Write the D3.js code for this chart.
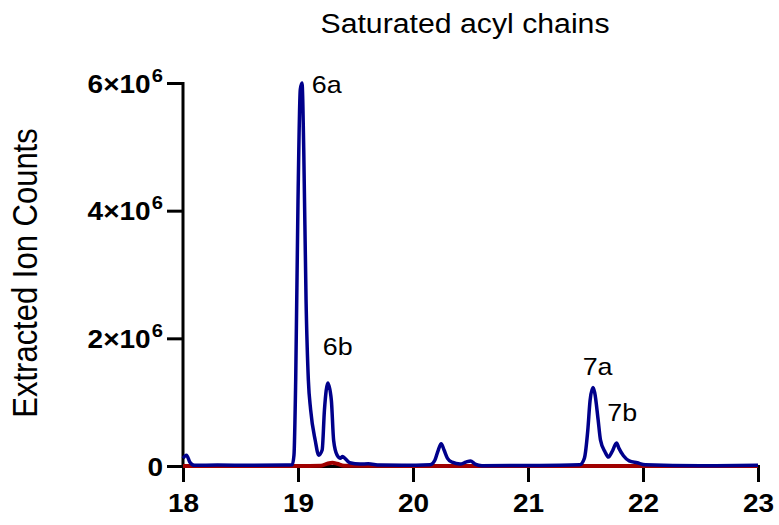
<!DOCTYPE html>
<html>
<head>
<meta charset="utf-8">
<script src="https://cdn.jsdelivr.net/npm/d3@7"></script>
<style>
  body { margin: 0; background: #fff; }
  text { font-family: "Liberation Sans", Arial, sans-serif; }
</style>
</head>
<body>
<svg id="chart" width="779" height="525"></svg>
<script>
const svg = d3.select("#chart");

// retention time (min) and extracted ion counts
const blueTime = [18.0, 18.03, 18.06, 18.1, 18.3, 18.6, 18.9, 18.95, 18.965, 18.98, 19.0, 19.02, 19.035, 19.05, 19.07, 19.09, 19.11, 19.15, 19.18, 19.21, 19.23, 19.26, 19.29, 19.31, 19.34, 19.37, 19.385, 19.45, 19.54, 19.61, 19.71, 19.9, 20.15, 20.19, 20.22, 20.245, 20.27, 20.3, 20.34, 20.41, 20.46, 20.5, 20.54, 20.6, 21.0, 21.45, 21.49, 21.52, 21.54, 21.565, 21.58, 21.61, 21.63, 21.67, 21.7, 21.73, 21.77, 21.79, 21.83, 21.88, 21.95, 22.02, 22.5, 23.0];
const blueCounts = [120000, 170000, 60000, 10000, 15000, 12000, 15000, 20000, 170000, 1350000, 4150000, 5900000, 6000000, 4950000, 2600000, 1350000, 880000, 400000, 170000, 250000, 880000, 1300000, 1030000, 400000, 170000, 120000, 150000, 50000, 30000, 35000, 15000, 12000, 20000, 90000, 250000, 350000, 250000, 120000, 60000, 30000, 60000, 80000, 30000, 5000, 8000, 20000, 120000, 560000, 1030000, 1230000, 1150000, 720000, 410000, 220000, 140000, 220000, 360000, 280000, 160000, 80000, 50000, 20000, 5000, 10000];

const redTime = [18.0, 19.0, 19.2, 19.26, 19.3, 19.34, 19.4, 20.0, 21.0, 22.0, 23.0];
const redCounts = [0, 0, 5000, 40000, 50000, 35000, 5000, 0, 0, 0, 0];

const peakLabels = ["6a", "6b", "7a", "7b"];
const peakTime = [19.12, 19.215, 21.475, 21.69];
const peakCount = [5840000, 1740000, 1420000, 700000];

const xTicks = [18, 19, 20, 21, 22, 23];
const yTicks = [0, 2000000, 4000000, 6000000];

const stretch = 1.12; // the original is a little wider than tall

const x = d3.scaleLinear().domain([18, 23]).range([183, 758]);
const y = d3.scaleLinear().domain([0, 6000000]).range([466, 83]);

const line = d3.line()
  .x(d => x(d[0]))
  .y(d => y(d[1]))
  .curve(d3.curveMonotoneX);

// x axis
const xAxis = svg.append("g")
  .attr("transform", "translate(0,466)")
  .call(d3.axisBottom(x).tickValues(xTicks).tickSize(16).tickPadding(12).tickFormat(d3.format("d")));
xAxis.select(".domain").attr("stroke-width", 3);
xAxis.selectAll(".tick line").attr("stroke-width", 3);
xAxis.selectAll(".tick text")
  .attr("font-size", 25).attr("font-weight", "bold")
  .attr("transform", `scale(${stretch},1)`)
  .style("font-family", "Liberation Sans, Arial, sans-serif");

// y axis
const yAxis = svg.append("g")
  .attr("transform", "translate(183,0)")
  .call(d3.axisLeft(y).tickValues(yTicks).tickSize(16).tickFormat(""));
yAxis.select(".domain").attr("stroke-width", 3).attr("d", "M0,82V466");
yAxis.selectAll(".tick line").attr("stroke-width", 3);

yAxis.selectAll(".tick").each(function(d) {
  const t = d3.select(this).append("text")
    .attr("x", -20 / stretch).attr("dy", "0.36em")
    .attr("transform", `scale(${stretch},1)`)
    .attr("text-anchor", "end")
    .attr("fill", "#000")
    .attr("font-size", 25).attr("font-weight", "bold");
  if (d === 0) {
    t.text("0");
  } else {
    t.append("tspan").text((d / 1e6) + "×10");
    t.append("tspan").attr("font-size", 18).attr("dx", 1).attr("dy", "-0.6em").text("6");
  }
});

// series
svg.append("path")
  .datum(redTime.map((t, i) => [t, redCounts[i]]))
  .attr("d", line)
  .attr("fill", "none")
  .attr("stroke", "#a00000")
  .attr("stroke-width", 4);

svg.append("path")
  .datum(blueTime.map((t, i) => [t, blueCounts[i]]))
  .attr("d", line)
  .attr("fill", "none")
  .attr("stroke", "#00008b")
  .attr("stroke-width", 3.5);

// peak labels
svg.selectAll(".peak")
  .data(peakLabels)
  .enter().append("text")
  .attr("class", "peak")
  .attr("transform", (d, i) => `translate(${x(peakTime[i])},${y(peakCount[i])}) scale(${stretch},1)`)
  .attr("font-size", 24)
  .text(d => d);

// title and axis label
svg.append("text")
  .attr("transform", `translate(465,33) scale(${stretch},1)`)
  .attr("text-anchor", "middle")
  .attr("font-size", 27)
  .text("Saturated acyl chains");

svg.append("text")
  .attr("transform", `translate(37,273) rotate(-90) scale(1,${stretch})`)
  .attr("text-anchor", "middle")
  .attr("font-size", 31)
  .text("Extracted Ion Counts");
</script>
</body>
</html>
